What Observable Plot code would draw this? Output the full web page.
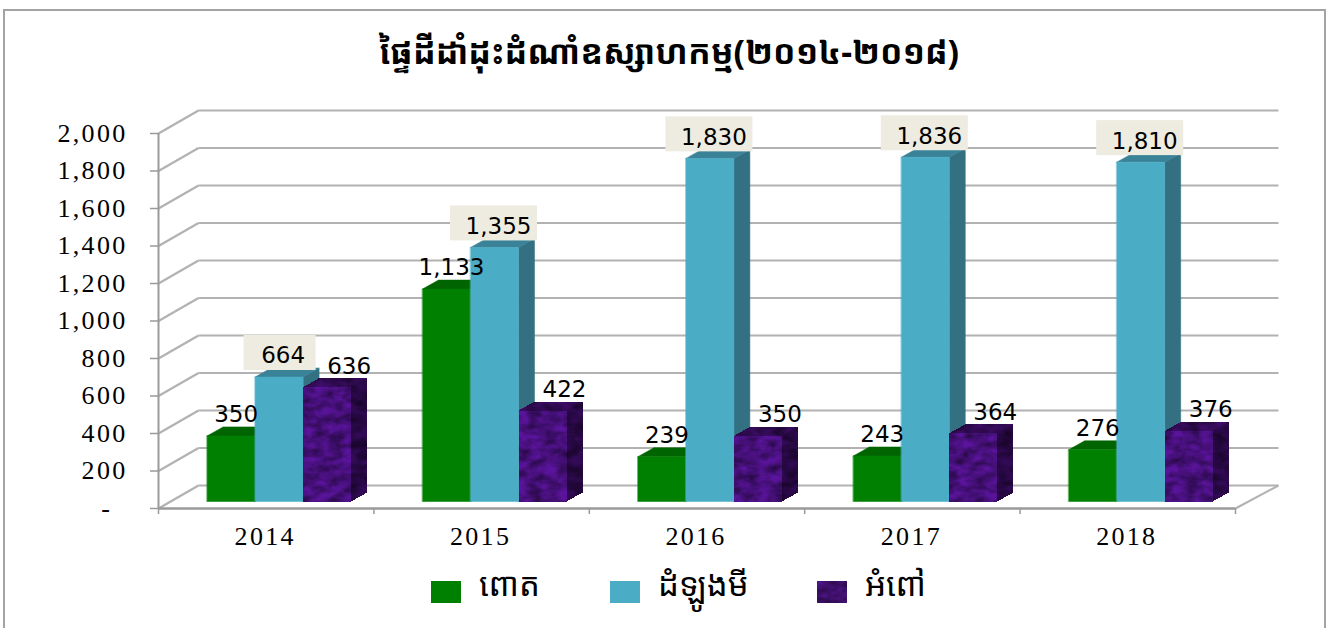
<!DOCTYPE html>
<html><head><meta charset="utf-8">
<script src="https://cdn.jsdelivr.net/npm/d3@7"></script>
<script src="https://cdn.jsdelivr.net/npm/@observablehq/plot@0.6"></script>
<style>
html,body{margin:0;padding:0;background:#fff;width:1328px;height:628px;overflow:hidden}
#frame{position:absolute;left:3px;top:9px;width:1323px;height:640px;border:2px solid #a3a3a3;box-sizing:border-box}
#title{position:absolute;left:0;top:28px;width:1338px;text-align:center;font:700 33.5px "Noto Sans Khmer","Khmer OS","Noto Sans","DejaVu Sans",sans-serif;color:#000;white-space:nowrap}
#chart{position:absolute;left:0;top:90px}
#legend{position:absolute;left:0;top:560px;width:1328px;height:60px;font:33px "Noto Sans Khmer","Khmer OS","Noto Sans","DejaVu Sans",sans-serif;color:#000}
#legend span{position:absolute;top:1px;white-space:nowrap}
#legend i{position:absolute;top:21px;width:30px;height:22px}
</style></head><body>
<div id="frame"></div>
<div id="title"></div>
<div id="chart"></div>
<div id="legend"></div>
<script>
const titleText = "ផ្ទៃដីដាំដុះដំណាំឧស្សាហកម្ម(២០១៤-២០១៨)";
const years = ["2014","2015","2016","2017","2018"];
const seriesNames = ["ពោត","ដំឡូងមី","អំពៅ"];
const corn = [350,1133,239,243,276];
const cassava = [664,1355,1830,1836,1810];
const sugarcane = [636,422,350,364,376];
// heights at which the reference actually draws the sugarcane bars (two differ from their printed labels)
const sugarcaneDrawn = [610,485,350,364,376];
const yTicks = [0,200,400,600,800,1000,1200,1400,1600,1800,2000];

const seriesValues = [corn,cassava,sugarcaneDrawn];
const seriesLabels = [corn,cassava,sugarcane];
const faceColors = [
  {front:"#008000",top:"#006400",side:"#005a00"},
  {front:"#4bacc6",top:"#3a8297",side:"#327082"},
  {front:"#5a149c",top:"#3c0d66",side:"#320a56"}
];
const pxX = 1/215.4, pxY = 1/0.1875;           // one pixel in scale units
const wallDx = 40*pxX, wallEnd = 5+43*pxX, wallDy = 23*pxY;
const floorDy = 7*pxY;
const barStart = 48.6*pxX, barW = 48*pxX, barDx = 16*pxX, barDy = 9*pxY;

const faces = [];
seriesValues.forEach((vals,s)=>vals.forEach((v,i)=>{
  const x0=i+barStart+s*barW, x1=x0+barW, b=floorDy, t=b+v, c=faceColors[s];
  const poly=(name,fill,pts)=>pts.forEach(p=>faces.push({id:`${s}-${i}-${name}`,x:p[0],y:p[1],fill}));
  poly("side",c.side,[[x1,b],[x1+barDx,b+barDy],[x1+barDx,t+barDy],[x1,t]]);
  poly("top",c.top,[[x0,t],[x0+barDx,t+barDy],[x1+barDx,t+barDy],[x1,t]]);
  poly("front",c.front,[[x0,b],[x1,b],[x1,t],[x0,t]]);
}));

const gridColor="#b2b2b2", axisColor="#9a9a9a";
const labels=(s,dx)=>Plot.text(seriesValues[s].map((v,i)=>({i,v,l:seriesLabels[s][i]})),{
  x:d=>d.i+barStart+(s+.5)*barW, y:d=>floorDy+d.v, text:d=>d3.format(",")(d.l),
  dx,dy:-21,fontFamily:"'DejaVu Sans',sans-serif",fontSize:23,fill:"#000"});
const serif={fontFamily:"'Liberation Serif',serif",fontSize:26,fill:"#000"};

const plot = Plot.plot({
  width:1328,height:460,
  marginLeft:158,marginRight:93,marginTop:43,marginBottom:42,
  x:{type:"linear",domain:[0,5]},
  y:{domain:[0,2000]},
  marks:[
    Plot.link(yTicks,{x1:wallDx,x2:wallEnd,y1:d=>d+wallDy,y2:d=>d+wallDy,stroke:gridColor,strokeWidth:2.2}),
    Plot.link(yTicks,{x1:0,x2:wallDx,y1:d=>d,y2:d=>d+wallDy,stroke:gridColor,strokeWidth:2.2}),
    Plot.link([0],{x1:5,x2:wallEnd,y1:0,y2:wallDy,stroke:gridColor,strokeWidth:2}),
    Plot.ruleX([0],{y1:0,y2:2000,stroke:axisColor,strokeWidth:2}),
    Plot.ruleY([0],{x1:0,x2:5,stroke:axisColor,strokeWidth:2.5}),
    Plot.axisY({ticks:yTicks,tickSize:8,tickPadding:23,stroke:axisColor,strokeWidth:1.5,
      tickFormat:d=>d===0?"-\u2002":d3.format(",")(d),label:null,...serif}),
    Plot.axisX({ticks:[0,1,2,3,4,5],tickSize:6,tickFormat:()=>"",stroke:axisColor,strokeWidth:1.5,label:null}),
    Plot.text(years,{x:(d,i)=>i+.5,y:0,text:d=>d,dx:-1,dy:28,...serif}),
    Plot.line(faces,{x:"x",y:"y",z:"id",fill:"fill",stroke:"fill",strokeWidth:.5,curve:"linear-closed"}),
    Plot.rect(cassava.map((v,i)=>({i,v})),{
      x1:d=>d.i+barStart+1.5*barW-(d.v<1000?35:44)*pxX, x2:d=>d.i+barStart+1.5*barW+(d.v<1000?37:43)*pxX,
      y1:d=>floorDy+d.v+6.5*pxY, y2:d=>floorDy+d.v+41.5*pxY, fill:"#eeece1"}),
    labels(0,5),labels(1,4),labels(2,22)
  ]
});
// letter-spacing of the serif labels + mottled texture of the sugarcane series
d3.select(plot).selectAll("text").each(function(){
  const fam=this.closest("[font-family]");
  if(fam && /Serif/.test(fam.getAttribute("font-family"))) this.style.letterSpacing="2.3px";
});
d3.select(plot).append("defs").html(`
  <filter id="mottle" x="0" y="0" width="100%" height="100%" color-interpolation-filters="sRGB">
    <feTurbulence type="fractalNoise" baseFrequency="0.07 0.12" numOctaves="3" seed="4" result="n"/>
    <feColorMatrix in="n" type="matrix" values="0.9 0 0 0 0.33  0.9 0 0 0 0.33  0.9 0 0 0 0.33  0 0 0 0 1" result="g"/>
    <feBlend in="SourceGraphic" in2="g" mode="multiply" result="b"/>
    <feComposite in="b" in2="SourceAlpha" operator="in"/>
  </filter>`);
d3.select(plot).selectAll("path").filter(function(){
  const f=(this.getAttribute("fill")||"").toLowerCase();
  return f===faceColors[2].front||f===faceColors[2].top||f===faceColors[2].side;
}).attr("filter","url(#mottle)").attr("stroke","none").attr("shape-rendering","crispEdges");
document.getElementById("chart").appendChild(plot);
document.getElementById("title").textContent=titleText;
const leg=document.getElementById("legend");
const swatchX=[431,610,817], textX=[479,658,865];
seriesNames.forEach((n,k)=>{
  const sw=document.createElement("i");sw.style.left=swatchX[k]+"px";
  sw.style.background=k===2?"#4f1488":faceColors[k].front;
  if(k===2) sw.style.filter="url(#mottle)";
  leg.appendChild(sw);
  const t=document.createElement("span");t.style.left=textX[k]+"px";t.textContent=n;leg.appendChild(t);
});
</script></body></html>
